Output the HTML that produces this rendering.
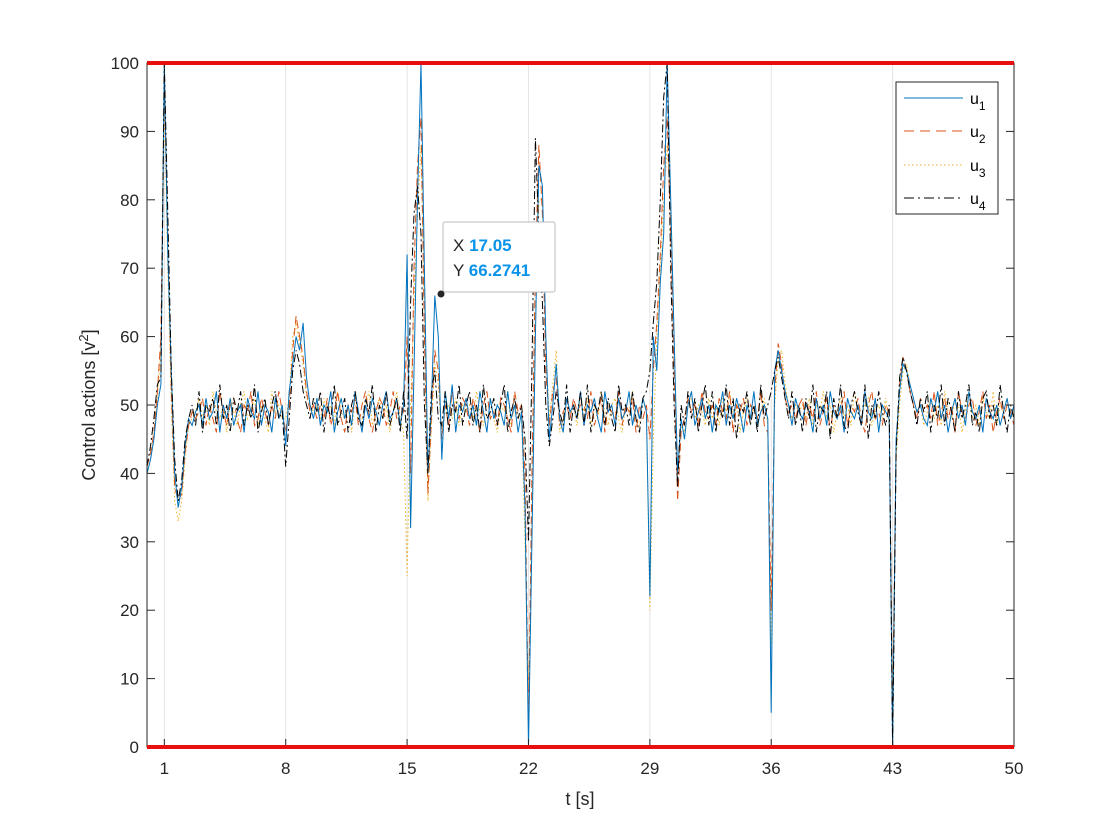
<!DOCTYPE html>
<html><head><meta charset="utf-8"><style>
html,body{margin:0;padding:0;background:#fff;}
svg{display:block;font-family:"Liberation Sans",Arial,sans-serif;}
</style></head><body>
<svg id="chart" width="1120" height="840" viewBox="0 0 1120 840" xmlns="http://www.w3.org/2000/svg">
<defs><clipPath id="plotclip"><rect x="147" y="60" width="867" height="690"/></clipPath></defs>
<rect x="147" y="63" width="867" height="684" fill="#fff"/>
<g id="grid"></g>
<g id="series" clip-path="url(#plotclip)"></g>
<g id="axes"></g>
<line x1="147" y1="63" x2="1014" y2="63" stroke="#e8100e" stroke-width="4"/>
<line x1="147" y1="747" x2="1014" y2="747" stroke="#e8100e" stroke-width="4"/>
<text x="580" y="805" font-size="18" text-anchor="middle" fill="#262626">t [s]</text>
<text transform="translate(95,405) rotate(-90)" font-size="18" text-anchor="middle" fill="#262626">Control actions [v<tspan dy="-7" font-size="13">2</tspan><tspan dy="7">]</tspan></text>
<g>
<rect x="896" y="82" width="102" height="132" fill="#fff" stroke="#262626" stroke-width="1"/>
<g><line x1="904" y1="98" x2="963" y2="98" stroke="#0072BD" stroke-width="1"/><text x="970" y="104" font-size="16" fill="#000">u<tspan dy="6" font-size="12">1</tspan></text></g>
<g><line x1="904" y1="131" x2="963" y2="131" stroke="#D95319" stroke-width="1" stroke-dasharray="10,6"/><text x="970" y="137" font-size="16" fill="#000">u<tspan dy="6" font-size="12">2</tspan></text></g>
<g><line x1="904" y1="165" x2="963" y2="165" stroke="#EDB120" stroke-width="1" stroke-dasharray="1.5,2.5"/><text x="970" y="171" font-size="16" fill="#000">u<tspan dy="6" font-size="12">3</tspan></text></g>
<g><line x1="904" y1="198" x2="963" y2="198" stroke="#000" stroke-width="1" stroke-dasharray="10,4,2,4"/><text x="970" y="204" font-size="16" fill="#000">u<tspan dy="6" font-size="12">4</tspan></text></g>
</g>
<g>
<rect x="443" y="222" width="112" height="70" rx="2" fill="#fff" stroke="#bbb" stroke-width="1"/>
<text x="453" y="251" font-size="17" fill="#262626">X <tspan font-weight="bold" fill="#0a93e8">17.05</tspan></text>
<text x="453" y="276" font-size="17" fill="#262626">Y <tspan font-weight="bold" fill="#0a93e8">66.2741</tspan></text>
<circle cx="441" cy="294" r="3.5" fill="#262626"/>
</g>
</svg>
<script>
const dt = 0.2;
const xTicks = [1, 8, 15, 22, 29, 36, 43, 50];
const yTicks = [0, 10, 20, 30, 40, 50, 60, 70, 80, 90, 100];
const u1 = [40,42,45,50,53,100,72,55,40,35,38,44,48,47,49,
50,47,51,48,49,52,46,50,48,51,47,49,50,46,51,49,48,52,47,50,49,46,51,48,50,
44,52,56,60,58,62,54,50,48,51,
47,50,49,52,46,49,51,48,50,47,52,49,46,50,48,51,49,47,50,52,48,49,51,47,
50,72,32,55,80,100,70,40,50,66,60,42,52,48,53,46,50,49,51,
48,50,47,52,49,46,51,48,50,49,47,52,48,50,46,49,
35,0,30,60,85,82,60,45,50,56,48,46,51,49,50,48,52,
47,50,49,51,48,46,52,49,50,47,51,48,49,52,47,50,48,51,49,
22,60,55,68,75,100,80,60,40,48,45,50,52,47,49,51,48,50,
46,50,49,52,47,50,48,51,49,46,50,48,52,47,49,50,
48,5,55,58,55,52,50,47,51,49,48,50,
49,46,51,48,50,47,52,49,48,50,46,51,49,48,50,47,52,49,48,51,46,50,49,
48,0,45,52,56,55,53,51,49,50,48,
47,51,49,52,48,50,46,49,51,48,50,47,52,49,48,50,46,51,49,48,50,47,49,51,48,50];
const u2 = [41,43,46,52,60,98,75,52,38,36,37,43,47,49,48,
49,51,47,50,48,46,52,49,47,50,51,48,46,50,49,52,47,48,51,49,47,50,48,52,49,
46,50,58,63,60,57,52,49,50,48,
50,48,51,47,49,52,48,46,50,49,51,47,50,52,48,46,49,51,50,47,49,52,48,50,
49,60,40,70,85,92,60,37,48,58,55,45,50,47,52,49,48,51,50,
47,51,49,46,50,52,48,49,47,51,50,48,46,52,49,50,
40,3,40,70,88,78,55,47,52,54,47,49,50,48,51,49,50,
50,48,52,47,49,51,46,50,49,48,52,47,50,49,51,46,50,48,50,
45,55,62,72,85,92,75,55,36,46,48,51,49,50,47,52,49,48,
50,47,51,49,48,52,46,50,49,51,47,50,49,48,52,47,
46,20,52,59,56,51,49,50,48,50,51,47,
50,48,52,47,49,51,46,50,48,49,52,47,50,49,51,48,46,50,52,48,49,47,50,
49,3,44,53,57,55,52,50,48,51,49,
50,48,52,47,49,51,48,50,46,52,49,48,50,51,47,49,52,48,50,46,49,51,48,50,49,47];
const u3 = [40,42,46,51,58,95,70,50,36,33,36,42,47,48,49,
51,48,50,47,52,49,48,50,46,51,49,47,50,52,48,49,51,47,50,48,46,52,49,50,48,
48,51,60,62,59,56,51,50,49,50,
48,51,49,50,47,52,49,48,50,46,51,49,48,50,52,47,49,51,48,50,46,49,52,48,
46,25,50,65,78,88,62,36,47,56,53,46,49,50,48,51,47,50,49,
50,48,52,49,47,50,51,48,46,50,49,52,47,50,48,49,
30,8,33,62,80,80,58,48,53,58,46,48,51,49,50,47,51,
49,51,47,50,48,52,49,47,50,51,48,46,50,49,52,48,47,51,49,
20,45,60,70,80,88,80,60,40,47,46,50,51,48,50,49,47,51,
48,50,47,51,49,52,48,50,46,49,51,48,50,47,49,51,
47,15,50,57,58,53,50,48,50,49,50,48,
51,47,50,49,52,48,50,46,49,51,48,50,47,52,49,48,50,51,47,49,50,48,51,
47,5,42,50,55,56,53,51,49,50,47,
49,51,48,50,47,52,49,48,51,50,46,49,52,48,50,47,51,49,48,52,47,50,49,51,48,50];
const u4 = [41,44,48,53,54,100,78,55,42,36,39,45,48,50,47,
52,46,50,49,51,47,53,48,50,46,51,49,52,47,50,48,53,46,49,51,47,50,52,48,49,
41,48,55,58,56,52,50,48,51,49,
52,46,50,48,53,47,49,51,46,50,52,48,47,51,49,53,46,50,48,52,47,49,51,46,
52,45,65,78,82,75,50,40,52,55,48,47,52,46,50,49,53,47,50,
52,47,50,46,53,48,49,51,47,50,53,46,49,51,48,50,
45,30,55,89,75,65,50,44,48,52,49,47,53,46,50,48,52,
47,53,46,50,49,52,47,51,48,46,53,49,50,47,52,48,46,51,52,
55,62,68,80,95,100,70,50,38,50,47,52,48,51,46,50,53,47,
52,46,50,48,53,47,51,45,50,49,52,47,50,46,53,48,
50,52,55,57,54,51,48,52,47,50,46,51,
48,53,46,50,49,52,45,51,48,53,47,46,50,52,49,47,53,45,50,48,52,49,47,
50,0,43,54,57,55,52,50,47,51,49,
52,46,50,48,53,47,51,49,46,52,48,50,53,47,49,46,51,52,48,50,47,53,49,46,50,48];

const X0 = 147, X1 = 1014, Y0 = 747, Y1 = 63;
function xs(t){ return X0 + (t / 50) * (X1 - X0); }
function ys(v){ return Y0 - (v / 100) * (Y0 - Y1); }
const NS = 'http://www.w3.org/2000/svg';
const grid = document.getElementById('grid');
const axes = document.getElementById('axes');
const seriesG = document.getElementById('series');

xTicks.forEach(function(t){
  const g = document.createElementNS(NS, 'line');
  g.setAttribute('x1', xs(t)); g.setAttribute('x2', xs(t));
  g.setAttribute('y1', Y1); g.setAttribute('y2', Y0);
  g.setAttribute('stroke', '#e3e3e3'); g.setAttribute('stroke-width', '1');
  
  
  grid.appendChild(g);
  const tk = document.createElementNS(NS, 'line');
  tk.setAttribute('x1', xs(t)); tk.setAttribute('x2', xs(t));
  tk.setAttribute('y1', Y0); tk.setAttribute('y2', Y0 - 8);
  tk.setAttribute('stroke', '#262626');
  
  
  axes.appendChild(tk);
  const lb = document.createElementNS(NS, 'text');
  lb.setAttribute('x', xs(t)); lb.setAttribute('y', Y0 + 27);
  lb.setAttribute('text-anchor', 'middle'); lb.setAttribute('font-size', '17');
  lb.setAttribute('fill', '#262626');
  lb.textContent = t;
  
  
  axes.appendChild(lb);
});
yTicks.forEach(function(v){
  const tk = document.createElementNS(NS, 'line');
  tk.setAttribute('x1', X0); tk.setAttribute('x2', X0 + 8);
  tk.setAttribute('y1', ys(v)); tk.setAttribute('y2', ys(v));
  tk.setAttribute('stroke', '#262626');
  
  
  axes.appendChild(tk);
  const tk2 = document.createElementNS(NS, 'line');
  tk2.setAttribute('x1', X1); tk2.setAttribute('x2', X1 - 8);
  tk2.setAttribute('y1', ys(v)); tk2.setAttribute('y2', ys(v));
  tk2.setAttribute('stroke', '#262626');
  
  
  axes.appendChild(tk2);
  const lb = document.createElementNS(NS, 'text');
  lb.setAttribute('x', X0 - 8); lb.setAttribute('y', ys(v) + 6);
  lb.setAttribute('text-anchor', 'end'); lb.setAttribute('font-size', '17');
  lb.setAttribute('fill', '#262626');
  lb.textContent = v;
  
  
  axes.appendChild(lb);
});
const frame = document.createElementNS(NS, 'rect');
frame.setAttribute('x', X0); frame.setAttribute('y', Y1);
frame.setAttribute('width', X1 - X0); frame.setAttribute('height', Y0 - Y1);
frame.setAttribute('fill', 'none'); frame.setAttribute('stroke', '#262626');


axes.appendChild(frame);

function drawSeries(vals, color, dash, name){
  const pts = vals.map(function(v, i){ return xs(i * dt).toFixed(1) + ',' + ys(v).toFixed(1); }).join(' ');
  const pl = document.createElementNS(NS, 'polyline');
  pl.setAttribute('points', pts);
  pl.setAttribute('fill', 'none');
  pl.setAttribute('stroke', color);
  pl.setAttribute('stroke-width', '1');
  if (dash) pl.setAttribute('stroke-dasharray', dash);
  
  
  seriesG.appendChild(pl);
}
drawSeries(u3, '#EDB120', '1.5,2.5', 'series-u3');
drawSeries(u2, '#D95319', '8,4', 'series-u2');
drawSeries(u1, '#0072BD', null, 'series-u1');
drawSeries(u4, '#000000', '8,3,2,3', 'series-u4');
</script>
</body></html>
